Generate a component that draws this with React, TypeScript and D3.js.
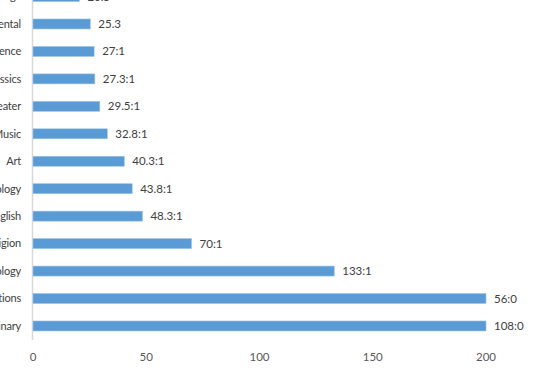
import React, { useEffect, useRef } from "react";
import * as d3 from "d3";

// departments, top to bottom (the left part of each name is cut off by the frame)
const departments = [
  "Language",
  "Environmental",
  "Computer Science",
  "Classics",
  "Theater",
  "Music",
  "Art",
  "Psychology",
  "English",
  "Religion",
  "Sociology",
  "International Relations",
  "Interdisciplinary",
];
const ratios = [20.5, 25.3, 27, 27.3, 29.5, 32.8, 40.3, 43.8, 48.3, 70, 133, 200, 200];
const ratioLabels = [
  "20.5",
  "25.3",
  "27:1",
  "27.3:1",
  "29.5:1",
  "32.8:1",
  "40.3:1",
  "43.8:1",
  "48.3:1",
  "70:1",
  "133:1",
  "56:0",
  "108:0",
];
const xTicks = [0, 50, 100, 150, 200];

function App() {
  const ref = useRef<SVGSVGElement>(null);

  useEffect(() => {
    const width = 555;
    const height = 370;
    const svg = d3.select(ref.current);
    svg.selectAll("*").remove();
    svg.attr("width", width).attr("height", height);

    const font = "Lato, 'Open Sans', sans-serif";

    // scales
    const xScale = d3.scaleLinear().domain([0, 200]).range([33, 486]);
    const yScale = d3
      .scaleBand()
      .domain(departments)
      .range([-17.2, 339.7])
      .paddingInner(0.636)
      .paddingOuter(0.318);

    const rows = departments.map((name, i) => ({
      name,
      value: ratios[i],
      label: ratioLabels[i],
    }));

    // vertical axis line
    svg
      .append("line")
      .attr("x1", 32.5)
      .attr("x2", 32.5)
      .attr("y1", -20)
      .attr("y2", 340)
      .attr("stroke", "#d9d9d9")
      .attr("stroke-width", 1.5);

    // bars
    svg
      .selectAll(".bar")
      .data(rows)
      .join("rect")
      .attr("class", "bar")
      .attr("x", xScale(0))
      .attr("y", (d) => yScale(d.name)!)
      .attr("width", (d) => xScale(d.value) - xScale(0))
      .attr("height", yScale.bandwidth())
      .attr("fill", "#5b9bd5")
      .attr("stroke", "#9cc3e6")
      .attr("stroke-width", 0.6);

    // value labels
    svg
      .selectAll(".val")
      .data(rows)
      .join("text")
      .attr("class", "val")
      .attr("x", (d) => xScale(d.value) + 8)
      .attr("y", (d) => yScale(d.name)! + yScale.bandwidth() / 2)
      .attr("dy", "0.35em")
      .attr("font-family", font)
      .attr("font-size", 11.5)
      .attr("fill", "#404040")
      .text((d) => d.label);

    // category labels
    svg
      .selectAll(".cat")
      .data(rows)
      .join("text")
      .attr("class", "cat")
      .attr("x", 21)
      .attr("y", (d) => yScale(d.name)! + yScale.bandwidth() / 2)
      .attr("dy", "0.35em")
      .attr("text-anchor", "end")
      .attr("font-family", font)
      .attr("font-size", 11)
      .attr("letter-spacing", -0.2)
      .attr("fill", "#404040")
      .text((d) => d.name);

    // x tick labels
    svg
      .selectAll(".tick")
      .data(xTicks)
      .join("text")
      .attr("class", "tick")
      .attr("x", (d) => xScale(d))
      .attr("y", 357)
      .attr("dy", "0.35em")
      .attr("text-anchor", "middle")
      .attr("font-family", font)
      .attr("font-size", 11.5)
      .attr("fill", "#595959")
      .text((d) => d);
  }, []);

  return (
    <svg
      ref={ref}
      style={{ position: "fixed", top: 0, left: 0, background: "#fff" }}
    ></svg>
  );
}

export default App;
